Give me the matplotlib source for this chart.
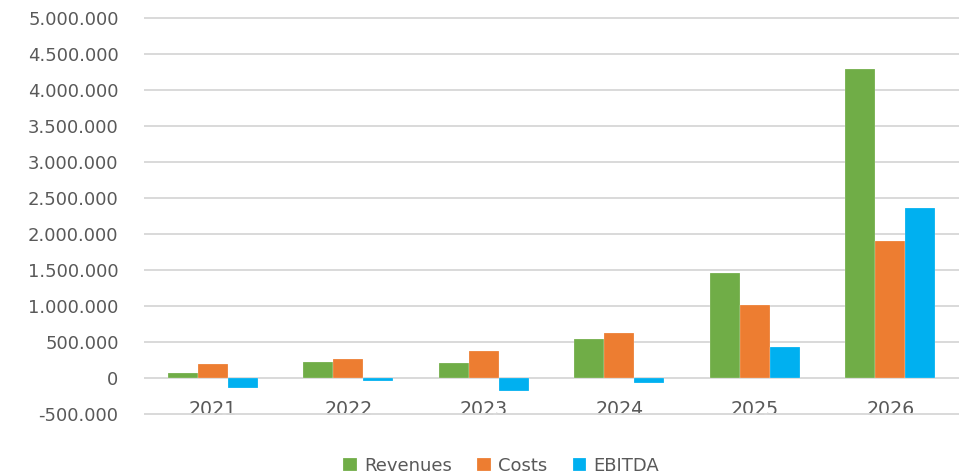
import matplotlib
matplotlib.use("Agg")
import matplotlib.pyplot as plt
import numpy as np
from matplotlib.ticker import FuncFormatter

years = ["2021", "2022", "2023", "2024", "2025", "2026"]
revenues = [65000, 218000, 204000, 546000, 1463000, 4287000]
costs = [195000, 264000, 371000, 620000, 1018000, 1898000]
ebitda = [-135000, -46000, -176000, -70000, 435000, 2361000]
series_names = ["Revenues", "Costs", "EBITDA"]
colors = ["#70AD47", "#ED7D31", "#00B0F0"]

plt.rcParams['font.family'] = ['DejaVu Sans']
text_color = "#595959"

fig = plt.figure(figsize=(9.64, 4.76), dpi=100)
ax = fig.add_axes([145/964, 1-414/476, (958-145)/964, (414-18)/476])

x = np.arange(len(years))
w = 0.221
for i, (vals, name, c) in enumerate(zip([revenues, costs, ebitda], series_names, colors)):
    ax.bar(x + (i-1)*w, vals, width=w, color=c, label=name, zorder=3,
           edgecolor='white', linewidth=0.15)

ax.set_xlim(-0.5, len(years)-0.5)
ax.set_ylim(-500000, 5000000)
ax.set_yticks(np.arange(-500000, 5000001, 500000))
ax.yaxis.set_major_formatter(FuncFormatter(lambda v, p: f"{int(v):,}".replace(",", ".")))
ax.grid(axis='y', color='#d9d9d9', linewidth=1.4, zorder=0)
for gl in ax.get_ygridlines():
    gl.set_clip_on(False)
ax.tick_params(axis='y', length=0, pad=19, labelsize=13, labelcolor=text_color)
for s in ax.spines.values():
    s.set_visible(False)

ax.set_xticks(x)
ax.set_xticklabels(years)
ax.spines['bottom'].set_position(('data', 0))
ax.tick_params(axis='x', length=0, pad=16, labelsize=13.7, labelcolor=text_color)

fig.legend(loc='lower center', ncol=3, frameon=False, bbox_to_anchor=(0.52, -0.031),
           fontsize=13, handlelength=0.75, handleheight=0.75, handletextpad=0.4,
           columnspacing=1.4, labelcolor=text_color)

fig.savefig("out.png", dpi=100)
